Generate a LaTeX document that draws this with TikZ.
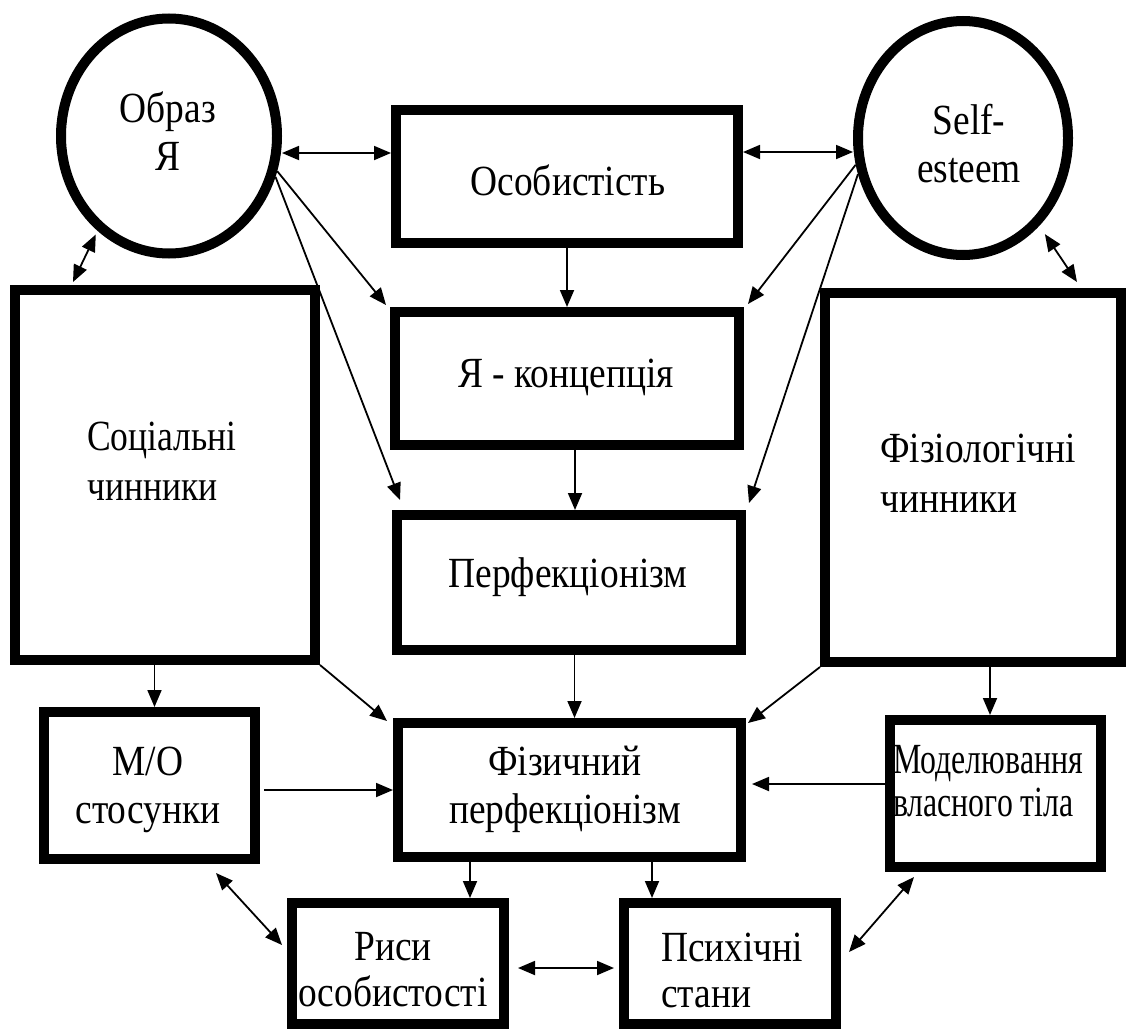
\documentclass[tikz,border=0pt]{standalone}
\usepackage{fontspec}
\setmainfont{Liberation Serif}[FakeStretch=0.87]
\usetikzlibrary{shapes.geometric,arrows.meta,calc}
\begin{document}
\begin{tikzpicture}[x=1pt,y=-1pt,
  box/.style={draw,rectangle,line width=10pt,inner sep=0pt},
  circ/.style={draw,ellipse,line width=10pt,inner sep=0pt},
  txt/.style={font=\fontsize{43}{48}\selectfont,align=center,inner sep=0pt},
  ltxt/.style={font=\fontsize{43}{50}\selectfont,align=left,inner sep=0pt,anchor=west},
  arr/.style={line width=1.8pt,-{Triangle[length=17pt,width=14pt]}},
  barr/.style={line width=1.8pt,{Triangle[length=17pt,width=14pt]}-{Triangle[length=17pt,width=14pt]}}]
\path[use as bounding box,fill=white] (0,0) rectangle (1127,1028);

% shapes
\node[circ,minimum width=216pt,minimum height=235pt] (obraz) at (169,136) {};
\node[circ,minimum width=210pt,minimum height=234pt] (self) at (963,138) {};
\node[box,minimum width=342pt,minimum height=133pt] (osob) at (567,176.5) {};
\node[box,minimum width=344pt,minimum height=133pt] (ya) at (567,378.5) {};
\node[box,minimum width=344pt,minimum height=135pt] (perf) at (569,582.5) {};
\node[box,minimum width=300pt,minimum height=370pt] (soc) at (165,475) {};
\node[box,minimum width=296pt,minimum height=369pt] (fiziol) at (973,477.5) {};
\node[box,minimum width=211pt,minimum height=147pt] (mo) at (149.5,785.5) {};
\node[box,minimum width=343pt,minimum height=134pt] (fiz) at (569.5,790) {};
\node[box,minimum width=211pt,minimum height=147pt] (model) at (995.5,793.5) {};
\node[box,minimum width=212pt,minimum height=121pt] (risy) at (398,963.5) {};
\node[box,minimum width=212pt,minimum height=121pt] (psych) at (730,963.5) {};

% texts
\node[txt] (tobraz) at (168,131) {Образ\\Я};
\node[txt] (tself) at (969,144) {Self-\\esteem};
\node[txt] (tosob) at (568,180) {Особистість};
\node[txt] (tya) at (566,377) {Я - концепція};
\node[txt] (tperf) at (568,577) {Перфекціонізм};
\node[ltxt] (tsoc) at (87,461) {\scalebox{0.95}[1]{Соціальні}\\\scalebox{0.95}[1]{чинники}};
\node[ltxt] (tfiziol) at (880,473) {Фізіологічні\\чинники};
\node[txt] (tmo) at (148,790) {М/О\\стосунки};
\node[txt] (tfiz) at (565,789) {Фізичний\\перфекціонізм};
\node[ltxt,font=\fontsize{43}{43}\selectfont] (tmodel) at (893,781.5) {\scalebox{0.85}[1]{Моделювання}\\\scalebox{0.85}[1]{власного тіла}};
\node[txt,font=\fontsize{43}{46}\selectfont] (trisy) at (393,970) {Риси\\особистості};
\node[ltxt,font=\fontsize{43}{46}\selectfont] (tpsych) at (661,970) {Психічні\\стани};

% connectors
\coordinate (p1) at ([yshift=23.5pt]osob.west);
\draw[barr] (obraz.east |- p1) -- (p1);
\coordinate (p2) at ([yshift=24.5pt]osob.east);
\draw[barr] (p2) -- (self.west |- p2);

\draw[arr] (obraz.-18) -- ([xshift=-4pt,yshift=2pt]ya.north west);
\draw[arr] (obraz.-21) -- ([xshift=8pt,yshift=10pt]perf.north west);
\draw[arr] (self.194) -- ([xshift=4pt,yshift=3pt]ya.north east);
\draw[arr] (self.199) -- ([xshift=3pt,yshift=7pt]perf.north east);

\draw[arr] (osob.south) -- (ya.north);
\draw[arr] ([xshift=8pt]ya.south) -- ([xshift=6pt]perf.north);
\draw[arr] ([xshift=5.5pt]perf.south) -- ([xshift=5.5pt]perf.south |- fiz.north);
\draw[arr] (soc.south east) -- ([xshift=-6pt,yshift=-3pt]fiz.north west);
\draw[arr] (fiziol.south west) -- ([xshift=2pt,yshift=-5pt]fiz.north east);
\draw[arr] ([xshift=5pt]mo.north |- soc.south) -- ([xshift=5pt]mo.north);
\draw[arr] ([xshift=-5.5pt]model.north |- fiziol.south) -- ([xshift=-5.5pt]model.north);
\draw[arr] ([xshift=4pt]mo.east |- fiz.west) -- (fiz.west);
\coordinate (p3) at ([yshift=9.5pt]model.west);
\draw[arr] (p3) -- ([xshift=6pt]fiz.east |- p3);
\draw[arr] ([xshift=-99.5pt]fiz.south) -- ([xshift=-99.5pt]fiz.south |- risy.north);
\draw[arr] ([xshift=82.5pt]fiz.south) -- ([xshift=82.5pt]fiz.south |- psych.north);
\coordinate (p4) at ([yshift=-4.5pt]risy.east);
\draw[barr] ([xshift=9pt]p4) -- ([xshift=-5pt]psych.west |- p4);
\draw[barr] ([xshift=-44pt,yshift=-9pt]mo.south east) -- ([xshift=-5pt,yshift=18.5pt]risy.west);
\draw[barr] ([xshift=8pt,yshift=11.5pt]psych.east) -- ([xshift=29pt,yshift=-5pt]model.south west);
\draw[barr,shorten <=4pt] (obraz.-127) -- ([xshift=-92pt,yshift=3pt]soc.north);
\draw[barr,shorten <=10pt] (self.-49) -- ([xshift=-49pt,yshift=6pt]fiziol.north east);
\end{tikzpicture}
\end{document}
